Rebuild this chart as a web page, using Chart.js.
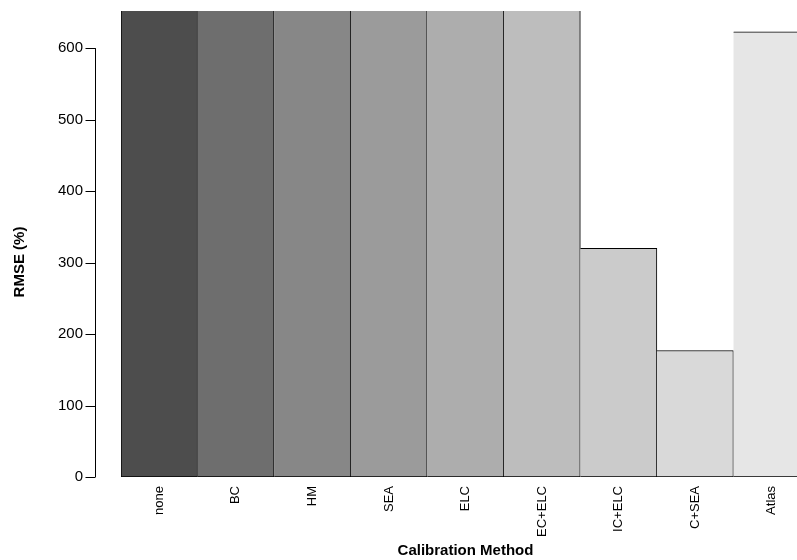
<!DOCTYPE html>
<html>
<head>
<meta charset="utf-8">
<script src="https://cdn.jsdelivr.net/npm/chart.js@4.4.1/dist/chart.umd.min.js"></script>
<style>
  html, body { margin: 0; padding: 0; background: #fff; overflow: hidden; }
  canvas { display: block; }
</style>
</head>
<body>
<canvas id="rmseChart" width="830" height="560"></canvas>
<script>
// Calibration methods and their RMSE (%) -- first six run off the top of the plot
const methods = ['none', 'BC', 'HM', 'SEA', 'ELC', 'EC+ELC', 'IC+ELC', 'C+SEA', 'Atlas'];
const rmse = [1450, 1200, 1100, 980, 900, 760, 320, 177, 623];
const barColors = ['#4D4D4D', '#6E6E6E', '#878787', '#9B9B9B', '#ADADAD', '#BDBDBD', '#CBCBCB', '#D9D9D9', '#E6E6E6'];
const yTicks = [0, 100, 200, 300, 400, 500, 600];
const yMax = 652;
const yTitle = 'RMSE (%)';

Chart.defaults.font.family = '"Liberation Sans", Arial, sans-serif';
Chart.defaults.color = '#000';

// R-style detached y axis: a line from 0 to 600 with outward tick marks, plus its title
const rAxis = {
    id: 'rAxis',
    afterDraw(chart) {
        const { ctx, chartArea, scales } = chart;
        const x = chartArea.left - 26 + 0.5;
        ctx.save();
        ctx.strokeStyle = '#000';
        ctx.lineWidth = 1;
        ctx.beginPath();
        ctx.moveTo(x, scales.y.getPixelForValue(yTicks[0]));
        ctx.lineTo(x, scales.y.getPixelForValue(yTicks[yTicks.length - 1]));
        yTicks.forEach(v => {
            const y = Math.round(scales.y.getPixelForValue(v)) + 0.5;
            ctx.moveTo(x - 10, y);
            ctx.lineTo(x, y);
        });
        ctx.stroke();

        // axis title, centred a bit lower than the clipped plot area
        ctx.translate(20, chartArea.bottom - 215);
        ctx.rotate(-Math.PI / 2);
        ctx.font = 'bold 15px "Liberation Sans", Arial, sans-serif';
        ctx.fillStyle = '#000';
        ctx.textAlign = 'center';
        ctx.textBaseline = 'middle';
        ctx.fillText(yTitle, 0, 0);
        ctx.restore();
    }
};

new Chart(document.getElementById('rmseChart'), {
    type: 'bar',
    data: {
        labels: methods,
        datasets: [{
            data: rmse,
            backgroundColor: barColors,
            borderColor: '#000',
            borderWidth: ctx => ({ top: 1, right: 1, bottom: 1, left: ctx.dataIndex === 0 ? 1 : 0 }),
            borderSkipped: false,
            barPercentage: 1,
            categoryPercentage: 1
        }]
    },
    options: {
        responsive: false,
        animation: false,
        layout: { padding: { top: 10, right: 20, left: 0, bottom: 0 } },
        plugins: {
            legend: { display: false },
            tooltip: { enabled: false }
        },
        scales: {
            x: {
                grid: { display: false, drawTicks: false },
                border: { display: false },
                ticks: {
                    autoSkip: false,
                    minRotation: 90,
                    maxRotation: 90,
                    padding: 9,
                    font: { size: 13 }
                },
                title: {
                    display: true,
                    text: 'Calibration Method',
                    font: { size: 15, weight: 'bold' },
                    padding: { top: 0, bottom: 0 }
                },
                afterFit(scale) { scale.height = 83; }
            },
            y: {
                min: 0,
                max: yMax,
                // invisible tick length pushes the labels out past the detached axis line
                grid: { display: false, drawTicks: true, tickLength: 36 },
                border: { display: false },
                ticks: {
                    stepSize: 100,
                    padding: 2,
                    font: { size: 15 }
                },
                afterBuildTicks(scale) {
                    scale.ticks = yTicks.map(v => ({ value: v }));
                },
                afterFit(scale) { scale.width = 121; }
            }
        }
    },
    plugins: [rAxis]
});
</script>
</body>
</html>
